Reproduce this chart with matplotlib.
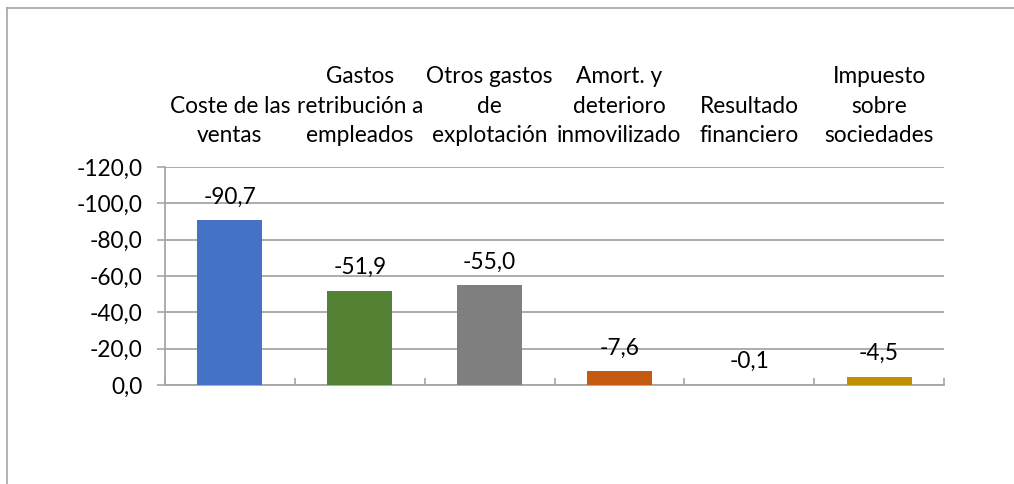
import matplotlib.pyplot as plt
from matplotlib.lines import Line2D
import numpy as np

plt.rcParams['font.family'] = ['Lato', 'DejaVu Sans']

categories = ['Coste de las\nventas', 'Gastos\nretribución a\nempleados',
              'Otros gastos\nde\nexplotación', 'Amort. y\ndeterioro\ninmovilizado',
              'Resultado\nfinanciero', 'Impuesto\nsobre\nsociedades']
values = [-90.7, -51.9, -55.0, -7.6, -0.1, -4.5]
colors = ['#4472C4', '#548235', '#7F7F7F', '#C55A11', '#5B9BD5', '#BF9000']
yticks = [0, -20, -40, -60, -80, -100, -120]

GRID = '#A6A6A6'
FS = 16.3


def fmt(v):
    return ('%.1f' % v).replace('.', ',')


fig = plt.figure(figsize=(10.14, 4.84), dpi=100)
ax = fig.add_axes([165 / 1014, 99 / 484, 779 / 1014, 218 / 484])

x = np.arange(len(values))
bars = ax.bar(x, values, width=0.5, color=colors, zorder=3)
for b, v in zip(bars, values):
    ax.annotate(fmt(v), (b.get_x() + b.get_width() / 2, v), xytext=(0, 9),
                textcoords='offset points', ha='center', va='bottom', fontsize=FS)

ax.set_xlim(-0.5, len(values) - 0.5)
ax.set_ylim(0, -120)
ax.set_yticks(yticks)
ax.set_yticklabels([fmt(t) for t in yticks], fontsize=FS)
ax.yaxis.grid(True, color=GRID, linewidth=1.3, zorder=0)
ax.tick_params(axis='y', length=6, color=GRID, width=1.2, pad=10)

ax.set_xticks(x)
ax.set_xticklabels(categories, fontsize=FS, ha='center', multialignment='center',
                   linespacing=1.5)
ax.set_xticks(np.arange(-0.5, len(values)), minor=True)
ax.tick_params(axis='x', which='major', top=True, labeltop=True, bottom=False,
               labelbottom=False, length=0, pad=15)
ax.tick_params(axis='x', which='minor', bottom=True, top=False, direction='in',
               length=5, color=GRID, width=1.2)

for s in ['top', 'right']:
    ax.spines[s].set_visible(False)
for s in ['left', 'bottom']:
    ax.spines[s].set_color(GRID)
    ax.spines[s].set_linewidth(1.3)

# chart frame
fig.add_artist(Line2D([6.5 / 1014, 6.5 / 1014], [0, 1 - 8 / 484], color=GRID, lw=1.2,
                      transform=fig.transFigure))
fig.add_artist(Line2D([6.5 / 1014, 1], [1 - 8 / 484, 1 - 8 / 484], color=GRID, lw=1.2,
                      transform=fig.transFigure))

fig.savefig('out.png', dpi=100)
